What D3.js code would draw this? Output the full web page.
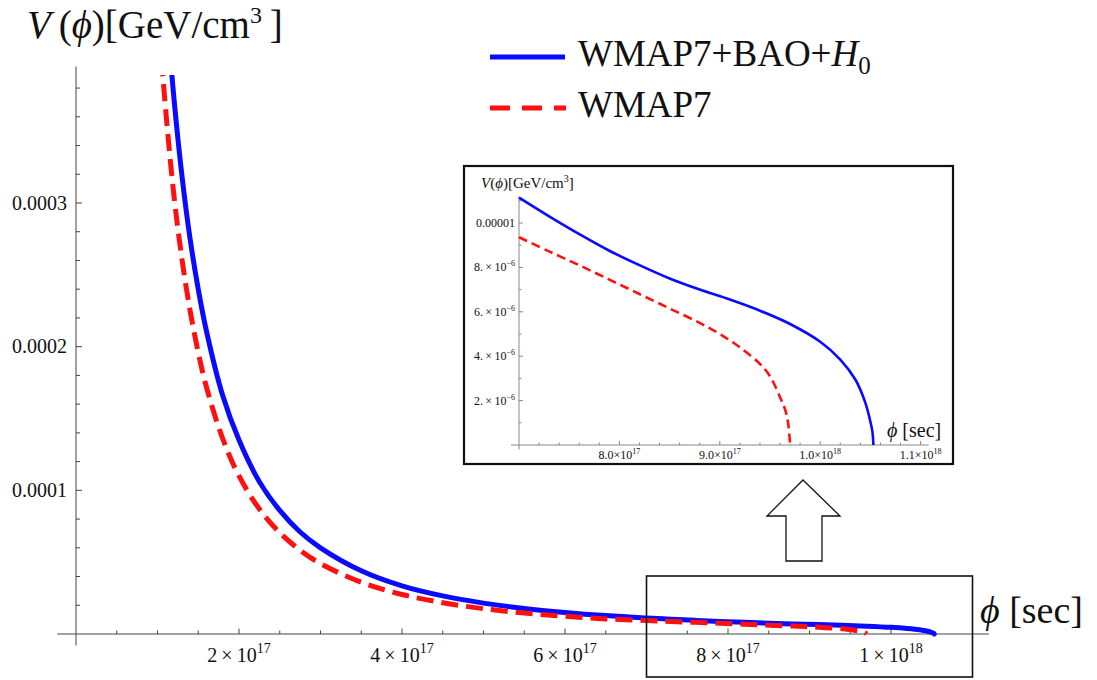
<!DOCTYPE html>
<html>
<head>
<meta charset="utf-8">
<script src="https://cdn.jsdelivr.net/npm/d3@7"></script>
<style>
  body { margin: 0; background: #fff; }
  text { font-family: "Liberation Serif", "Times New Roman", serif; fill: #111; }
</style>
</head>
<body>
<div id="chart"></div>
<script>
var svgWidth = 1097;
var svgHeight = 680;

// phi [sec] and V(phi) [GeV/cm^3]
var phiBlue = [1.15e17, 1.2e17, 1.3e17, 1.4e17, 1.5e17, 1.6e17, 1.8e17, 2.0e17, 2.25e17, 2.5e17,
  2.75e17, 3.0e17, 3.5e17, 4.0e17, 4.5e17, 5.0e17, 5.5e17, 6.0e17, 6.5e17, 7.0e17,
  7.3e17, 7.6e17, 7.9e17, 8.2e17, 8.5e17, 8.8e17, 9.1e17, 9.4e17, 9.7e17, 10.0e17,
  10.2e17, 10.35e17, 10.45e17, 10.5e17, 10.52e17, 10.53e17];
var vBlue = [408e-6, 374e-6, 319e-6, 275e-6, 240e-6, 211e-6, 166e-6, 135e-6, 106e-6, 86e-6,
  71e-6, 60e-6, 44e-6, 33.5e-6, 26.5e-6, 21.5e-6, 17.8e-6, 15.0e-6, 12.8e-6, 11.14e-6,
  10.3e-6, 9.5e-6, 8.75e-6, 8.1e-6, 7.5e-6, 7.0e-6, 6.55e-6, 6.05e-6, 5.45e-6, 4.65e-6,
  3.85e-6, 2.95e-6, 1.9e-6, 1.05e-6, 0.6e-6, 0];

var phiRed = [1.05e17, 1.1e17, 1.2e17, 1.3e17, 1.4e17, 1.5e17, 1.6e17, 1.8e17, 2.0e17, 2.25e17,
  2.5e17, 2.75e17, 3.0e17, 3.5e17, 4.0e17, 4.5e17, 5.0e17, 5.5e17, 6.0e17, 6.5e17,
  7.0e17, 7.3e17, 7.6e17, 7.9e17, 8.2e17, 8.5e17, 8.8e17, 9.0e17, 9.2e17, 9.4e17,
  9.5e17, 9.6e17, 9.65e17, 9.68e17, 9.7e17];
var vRed = [400e-6, 365e-6, 306e-6, 261e-6, 225e-6, 196e-6, 172e-6, 136e-6, 110e-6, 87e-6,
  70.5e-6, 58.3e-6, 49e-6, 36e-6, 27.5e-6, 21.8e-6, 17.6e-6, 14.6e-6, 12.3e-6, 10.5e-6,
  9.36e-6, 8.72e-6, 8.1e-6, 7.45e-6, 6.8e-6, 6.15e-6, 5.5e-6, 5.0e-6, 4.4e-6, 3.65e-6,
  3.1e-6, 2.15e-6, 1.6e-6, 1.0e-6, 0];

// tick values and labels
var mainXTicks = [2e17, 4e17, 6e17, 8e17, 1e18];
var mainXMant = ["2", "4", "6", "8", "1"];
var mainXExp = ["17", "17", "17", "17", "18"];
var mainYTicks = [1e-4, 2e-4, 3e-4];
var mainYLabels = ["0.0001", "0.0002", "0.0003"];

var insetXTicks = [8e17, 9e17, 1e18, 1.1e18];
var insetXMant = ["8.0", "9.0", "1.0", "1.1"];
var insetXExp = ["17", "17", "18", "18"];
var insetYTicks = [2e-6, 4e-6, 6e-6, 8e-6, 1e-5];
var insetYMant = ["2.", "4.", "6.", "8.", null];
var insetYPlain = [null, null, null, null, "0.00001"];

var seriesNames = ["WMAP7+BAO+", "WMAP7"];

var blueData = phiBlue.map((p, i) => ({phi: p, v: vBlue[i]}));
var redData = phiRed.map((p, i) => ({phi: p, v: vRed[i]}));

var svg = d3.select("#chart").append("svg")
  .attr("width", svgWidth)
  .attr("height", svgHeight);

// ---------- main plot ----------
var x = d3.scaleLinear().domain([0, 1e18]).range([76, 891]);
var y = d3.scaleLinear().domain([0, 3e-4]).range([634, 203]);

var axisColor = "#444";

// axes lines
svg.append("line")
  .attr("x1", x(-0.23e17)).attr("x2", x(11.2e17))
  .attr("y1", y(0)).attr("y2", y(0))
  .attr("stroke", axisColor).attr("stroke-width", 1);
svg.append("line")
  .attr("x1", x(0)).attr("x2", x(0))
  .attr("y1", y(-0.08e-4)).attr("y2", y(3.95e-4))
  .attr("stroke", axisColor).attr("stroke-width", 1);

// x ticks (inside, upward)
var xMinor = d3.range(1, 22).map(k => k * 0.5e17);
svg.append("g").selectAll("line")
  .data(xMinor)
  .enter().append("line")
  .attr("x1", d => x(d)).attr("x2", d => x(d))
  .attr("y1", y(0))
  .attr("y2", (d, i) => y(0) - ((i + 1) % 4 === 0 ? 5.5 : 3.5))
  .attr("stroke", axisColor).attr("stroke-width", 1);

// y ticks (inside, right)
var yMinor = d3.range(1, 20).map(k => k * 0.2e-4);
svg.append("g").selectAll("line")
  .data(yMinor)
  .enter().append("line")
  .attr("x1", x(0))
  .attr("x2", (d, i) => x(0) + ((i + 1) % 5 === 0 ? 6 : 4))
  .attr("y1", d => y(d)).attr("y2", d => y(d))
  .attr("stroke", axisColor).attr("stroke-width", 1);

// x tick labels
var xLab = svg.append("g").selectAll("text")
  .data(mainXTicks)
  .enter().append("text")
  .attr("x", d => x(d))
  .attr("y", 662)
  .attr("text-anchor", "middle")
  .style("font-size", "20px");
xLab.append("tspan").text((d, i) => mainXMant[i] + "\u2009\u00d7\u200910");
xLab.append("tspan").attr("dy", -9).style("font-size", "14px").text((d, i) => mainXExp[i]);

// y tick labels
svg.append("g").selectAll("text")
  .data(mainYTicks)
  .enter().append("text")
  .attr("x", 67)
  .attr("y", d => y(d))
  .attr("dy", "0.34em")
  .attr("text-anchor", "end")
  .style("font-size", "20px")
  .text((d, i) => mainYLabels[i]);

// curves
svg.append("clipPath").attr("id", "mainClip")
  .append("rect").attr("x", 0).attr("y", 75).attr("width", svgWidth).attr("height", 600);

var mainLine = d3.line()
  .x(d => x(d.phi))
  .y(d => y(d.v))
  .curve(d3.curveCatmullRom.alpha(0.5));

var curves = svg.append("g").attr("clip-path", "url(#mainClip)");
curves.append("path")
  .datum(blueData)
  .attr("d", mainLine)
  .attr("fill", "none")
  .attr("stroke", "#0a0aff")
  .attr("stroke-width", 5)
  .attr("stroke-linecap", "round");
curves.append("path")
  .datum(redData)
  .attr("d", mainLine)
  .attr("fill", "none")
  .attr("stroke", "#ff1010")
  .attr("stroke-width", 5)
  .attr("stroke-dasharray", "17,8");

// axis titles
var yTitle = svg.append("text").attr("x", 27).attr("y", 38).style("font-size", "39px");
yTitle.append("tspan").style("font-style", "italic").text("V");
yTitle.append("tspan").text("\u2009(");
yTitle.append("tspan").style("font-style", "italic").text("\u03d5");
yTitle.append("tspan").text(")[GeV/cm");
yTitle.append("tspan").attr("dy", -15).style("font-size", "24px").text("3");
yTitle.append("tspan").attr("dy", 15).text("\u2009]");

var xTitle = svg.append("text").attr("x", 980).attr("y", 623).style("font-size", "38px");
xTitle.append("tspan").style("font-style", "italic").text("\u03d5");
xTitle.append("tspan").text(" [sec]");

// legend
var legend = svg.append("g");
legend.append("line")
  .attr("x1", 490).attr("x2", 565).attr("y1", 57).attr("y2", 57)
  .attr("stroke", "#0a0aff").attr("stroke-width", 5);
legend.append("line")
  .attr("x1", 490).attr("x2", 566).attr("y1", 108).attr("y2", 108)
  .attr("stroke", "#ff1010").attr("stroke-width", 5)
  .attr("stroke-dasharray", "20,12");
var leg1 = legend.append("text").attr("x", 578).attr("y", 66).style("font-size", "37px");
leg1.append("tspan").text(seriesNames[0]);
leg1.append("tspan").style("font-style", "italic").text("H");
leg1.append("tspan").attr("dy", 8).style("font-size", "25px").text("0");
legend.append("text").attr("x", 578).attr("y", 117).style("font-size", "37px").text(seriesNames[1]);

// zoom box and arrow
svg.append("rect")
  .attr("x", x(7e17)).attr("y", 576)
  .attr("width", x(11e17) - x(7e17)).attr("height", 101)
  .attr("fill", "none").attr("stroke", "#111").attr("stroke-width", 1.6);

var arrowPts = [[803, 480], [840, 516], [822, 516], [822, 561], [786, 561], [786, 516], [767, 516]];
svg.append("path")
  .attr("d", d3.line()(arrowPts) + "Z")
  .attr("fill", "#fff").attr("stroke", "#111").attr("stroke-width", 1.3);

// ---------- inset ----------
var ix = d3.scaleLinear().domain([7e17, 1.1e18]).range([519, 920.6]);
var iy = d3.scaleLinear().domain([0, 1e-5]).range([445, 223]);
var insetAxis = "#888";

var inset = svg.append("g");
inset.append("rect")
  .attr("x", 464).attr("y", 166).attr("width", 489).attr("height", 298)
  .attr("fill", "#fff").attr("stroke", "#111").attr("stroke-width", 2.2);

inset.append("line")
  .attr("x1", ix(6.92e17)).attr("x2", ix(11.08e17))
  .attr("y1", iy(0)).attr("y2", iy(0))
  .attr("stroke", insetAxis).attr("stroke-width", 1);
inset.append("line")
  .attr("x1", ix(7e17)).attr("x2", ix(7e17))
  .attr("y1", iy(-0.2e-6)).attr("y2", iy(11.2e-6))
  .attr("stroke", insetAxis).attr("stroke-width", 1);

var ixMinor = d3.range(1, 21).map(k => 7e17 + k * 0.2e17);
inset.append("g").selectAll("line")
  .data(ixMinor)
  .enter().append("line")
  .attr("x1", d => ix(d)).attr("x2", d => ix(d))
  .attr("y1", iy(0))
  .attr("y2", (d, i) => iy(0) - ((i + 1) % 5 === 0 ? 4 : 2.5))
  .attr("stroke", insetAxis).attr("stroke-width", 1);

var iyMinor = d3.range(1, 12).map(k => k * 1e-6);
inset.append("g").selectAll("line")
  .data(iyMinor)
  .enter().append("line")
  .attr("x1", ix(7e17))
  .attr("x2", (d, i) => ix(7e17) + ((i + 1) % 2 === 0 ? 4 : 2.5))
  .attr("y1", d => iy(d)).attr("y2", d => iy(d))
  .attr("stroke", insetAxis).attr("stroke-width", 1);

var ixLab = inset.append("g").selectAll("text")
  .data(insetXTicks)
  .enter().append("text")
  .attr("x", d => ix(d))
  .attr("y", 459)
  .attr("text-anchor", "middle")
  .style("font-size", "12px");
ixLab.append("tspan").text((d, i) => insetXMant[i] + "\u00d710");
ixLab.append("tspan").attr("dy", -5).style("font-size", "8px").text((d, i) => insetXExp[i]);

var iyLab = inset.append("g").selectAll("text")
  .data(insetYTicks)
  .enter().append("text")
  .attr("x", 515)
  .attr("y", d => iy(d))
  .attr("dy", "0.34em")
  .attr("text-anchor", "end")
  .style("font-size", "12px");
iyLab.each(function(d, i) {
  var t = d3.select(this);
  if (insetYPlain[i]) {
    t.append("tspan").text(insetYPlain[i]);
  } else {
    t.append("tspan").text(insetYMant[i] + "\u2009\u00d7\u200910");
    t.append("tspan").attr("dy", -5).style("font-size", "8px").text("\u22126");
  }
});

var insetLine = d3.line()
  .x(d => ix(d.phi))
  .y(d => iy(d.v))
  .curve(d3.curveCatmullRom.alpha(0.5));

inset.append("path")
  .datum(blueData.filter(d => d.phi >= 7e17))
  .attr("d", insetLine)
  .attr("fill", "none")
  .attr("stroke", "#0a0aff")
  .attr("stroke-width", 2.6);
inset.append("path")
  .datum(redData.filter(d => d.phi >= 7e17))
  .attr("d", insetLine)
  .attr("fill", "none")
  .attr("stroke", "#ff1010")
  .attr("stroke-width", 2.6)
  .attr("stroke-dasharray", "9,5");

var iyTitle = inset.append("text").attr("x", 481).attr("y", 188).style("font-size", "15px");
iyTitle.append("tspan").style("font-style", "italic").text("V");
iyTitle.append("tspan").text("(");
iyTitle.append("tspan").style("font-style", "italic").text("\u03d5");
iyTitle.append("tspan").text(")[GeV/cm");
iyTitle.append("tspan").attr("dy", -6).style("font-size", "10px").text("3");
iyTitle.append("tspan").attr("dy", 6).text("]");

var ixTitle = inset.append("text").attr("x", 887).attr("y", 437).style("font-size", "20px");
ixTitle.append("tspan").style("font-style", "italic").text("\u03d5");
ixTitle.append("tspan").text(" [sec]");
</script>
</body>
</html>
